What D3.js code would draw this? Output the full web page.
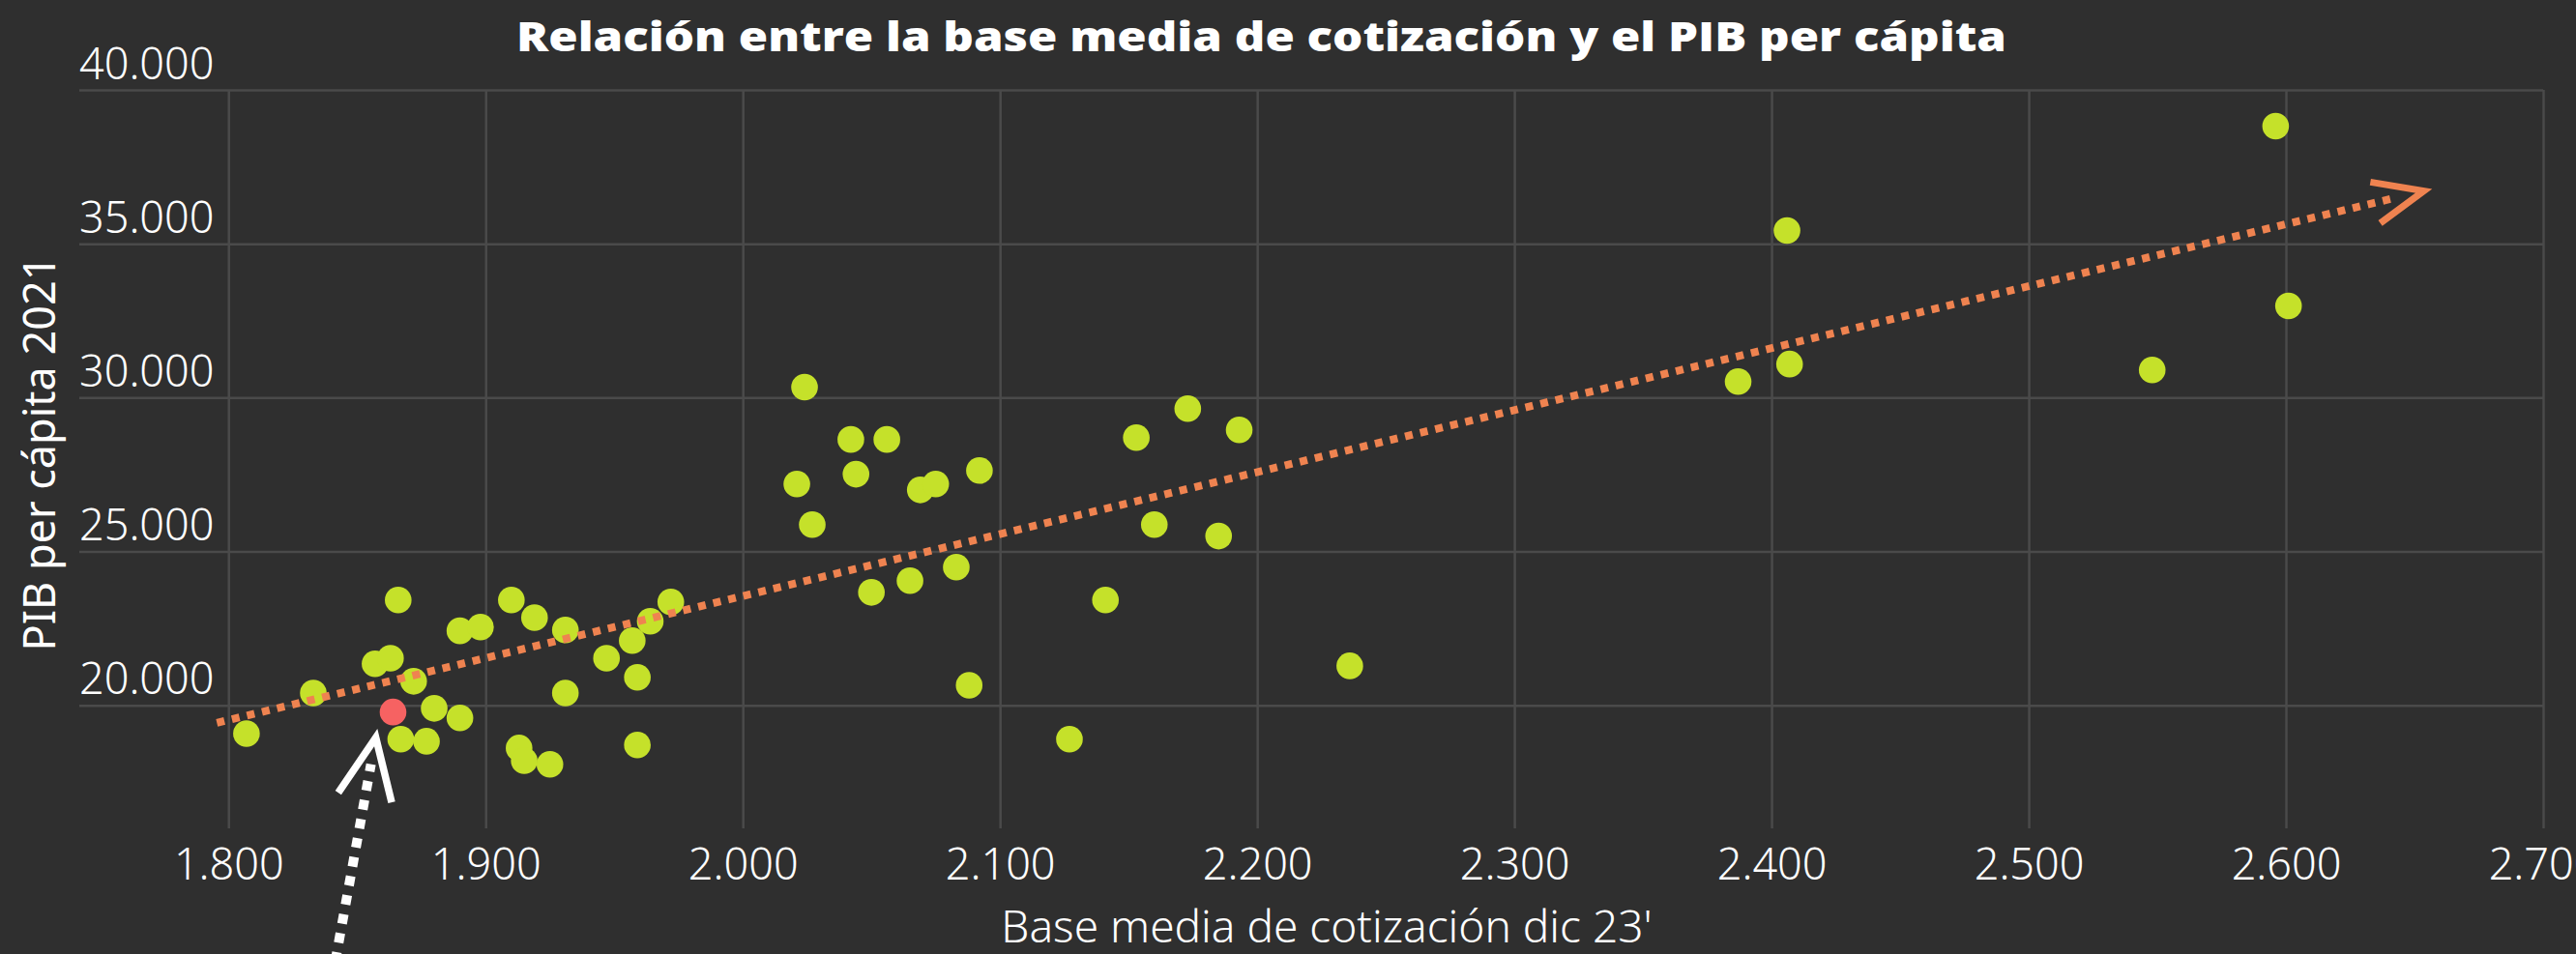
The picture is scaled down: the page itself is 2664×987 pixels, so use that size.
<!DOCTYPE html>
<html>
<head>
<meta charset="utf-8">
<script src="https://cdn.jsdelivr.net/npm/d3@7"></script>
<style>
  html, body { margin: 0; padding: 0; background: #2f2f2f; }
  svg { display: block; }
</style>
</head>
<body>
<div id="chart"></div>
<script>
// ---------------- DATA ----------------
const baseMedia = [
  1807, 1833, 1857, 1863, 1866, 1872, 1864, 1867, 1877, 1880,
  1890, 1890, 1898, 1910, 1919, 1913, 1915, 1925, 1931, 1931,
  1947, 1957, 1959, 1959, 1964, 1972, 2024, 2042, 2056, 2021,
  2044, 2069, 2075, 2092, 2027, 2050, 2065, 2083, 2088, 2127,
  2141, 2153, 2173, 2193, 2160, 2185, 2236, 2596, 2406, 2601,
  2387, 2407, 2548
];
const pibPerCapita = [
  19080, 20400, 21350, 21530, 23420, 20780, 19780, 18900, 18830, 19900,
  19590, 22420, 22540, 23420, 22850, 18610, 18200, 18080, 22450, 20400,
  21530, 22100, 20910, 18710, 22730, 23360, 30340, 28640, 28640, 27190,
  27510, 27000, 27190, 27630, 25870, 23670, 24050, 24490, 20650, 18900,
  23420, 28700, 29640, 28950, 25870, 25500, 21280, 38820, 35430, 32980,
  30520, 31090, 30900
];
const highlightIndex = 6;

const xTicks = [1800, 1900, 2000, 2100, 2200, 2300, 2400, 2500, 2600, 2700];
const yTicks = [20000, 25000, 30000, 35000, 40000];
const xDomain = [1742, 2700];
const yDomain = [16000, 40000];

// trend arrow: start point and arrow tip (data units)
const trendStart = [1795.5, 19430];
const trendTip = [2653.6, 36716];
// pointer arrow to the highlighted point: tail and tip (data units)
const pointerTail = [1841.5, 11666];
const pointerTip = [1857.3, 18951];

const titleText = "Relación entre la base media de cotización y el PIB per cápita";
const xTitle = "Base media de cotización dic 23'";
const yTitle = "PIB per cápita 2021";

// ---------------- CHART ----------------
const W = 2664, H = 987;
const plot = { left: 82, right: 2630, top: 93, bottom: 857 };
const colors = {
  bg: "#2f2f2f", grid: "#4a4a4a", text: "#ffffff",
  point: "#c5e12a", highlight: "#f66262", trend: "#ef8350", pointer: "#ffffff"
};
const fmt = d3.formatLocale({ decimal: ",", thousands: ".", grouping: [3], currency: ["", "€"] }).format(",");

const svg = d3.select("#chart").append("svg")
  .attr("width", W).attr("height", H)
  .style("background", colors.bg);

const x = d3.scaleLinear().domain(xDomain).range([plot.left, plot.right]);
const y = d3.scaleLinear().domain(yDomain).range([plot.bottom, plot.top]);

// vertical grid + x tick labels
const xAxis = svg.append("g")
  .attr("transform", `translate(0,${plot.bottom})`)
  .call(d3.axisBottom(x).tickValues(xTicks).tickFormat(fmt)
    .tickSize(-(plot.bottom - plot.top)).tickPadding(22));
xAxis.select(".domain").remove();
xAxis.selectAll(".tick line").attr("stroke", colors.grid).attr("stroke-width", 2.5);
xAxis.selectAll(".tick text")
  .attr("fill", colors.text)
  .style("font-family", "'Noto Sans', 'Open Sans', sans-serif")
  .style("font-weight", 300)
  .style("font-size", "45px")
  .attr("y", 53).attr("dy", 0);

// horizontal grid + y tick labels
const yAxis = svg.append("g")
  .attr("transform", `translate(${plot.left},0)`)
  .call(d3.axisLeft(y).tickValues(yTicks).tickFormat(fmt)
    .tickSize(-(plot.right - plot.left)));
yAxis.select(".domain").remove();
yAxis.selectAll(".tick line").attr("stroke", colors.grid).attr("stroke-width", 2.5);
yAxis.selectAll(".tick text")
  .attr("fill", colors.text)
  .attr("text-anchor", "start")
  .attr("x", 0).attr("dy", 0).attr("y", -12)
  .style("font-family", "'Noto Sans', 'Open Sans', sans-serif")
  .style("font-weight", 300)
  .style("font-size", "45px");

// points
svg.append("g").selectAll("circle")
  .data(baseMedia.map((v, i) => ({ x: v, y: pibPerCapita[i], i })))
  .join("circle")
  .attr("cx", d => x(d.x))
  .attr("cy", d => y(d.y))
  .attr("r", 13.8)
  .attr("fill", d => d.i === highlightIndex ? colors.highlight : colors.point);

// arrow helper
function drawArrow(p0, p1, opt) {
  const x0 = x(p0[0]), y0 = y(p0[1]), x1 = x(p1[0]), y1 = y(p1[1]);
  const L = Math.hypot(x1 - x0, y1 - y0);
  const ux = (x1 - x0) / L, uy = (y1 - y0) / L;
  const g = svg.append("g");
  g.append("line")
    .attr("x1", x0).attr("y1", y0)
    .attr("x2", x1 - ux * opt.gap).attr("y2", y1 - uy * opt.gap)
    .attr("stroke", opt.color)
    .attr("stroke-width", opt.width)
    .attr("stroke-dasharray", opt.dash);
  const a = opt.angle * Math.PI / 180;
  const bx = -ux, by = -uy;
  const rot = (ang) => [bx * Math.cos(ang) - by * Math.sin(ang), bx * Math.sin(ang) + by * Math.cos(ang)];
  const r1 = rot(a), r2 = rot(-a);
  g.append("path")
    .attr("d", `M${x1 + r1[0] * opt.head},${y1 + r1[1] * opt.head}L${x1},${y1}L${x1 + r2[0] * opt.head},${y1 + r2[1] * opt.head}`)
    .attr("fill", "none")
    .attr("stroke", opt.color)
    .attr("stroke-width", opt.headWidth)
    .attr("stroke-linejoin", "miter")
    .attr("stroke-miterlimit", 10);
}

drawArrow(trendStart, trendTip, { color: colors.trend, width: 8, dash: "8 8", gap: 32, angle: 23, head: 56, headWidth: 7 });
drawArrow(pointerTail, pointerTip, { color: colors.pointer, width: 10, dash: "10 10", gap: 28, angle: 24, head: 69, headWidth: 7.5 });

// title
svg.append("text")
  .attr("x", 534).attr("y", 53)
  .attr("textLength", 1541).attr("lengthAdjust", "spacingAndGlyphs")
  .attr("fill", colors.text)
  .style("font-family", "'Open Sans', 'Noto Sans', sans-serif")
  .style("font-weight", 800)
  .style("font-size", "42px")
  .text(titleText);

// x title
svg.append("text")
  .attr("x", 1372).attr("y", 975)
  .attr("text-anchor", "middle")
  .attr("fill", colors.text)
  .style("font-family", "'Noto Sans', 'Open Sans', sans-serif")
  .style("font-weight", 300)
  .style("font-size", "46px")
  .text(xTitle);

// y title
svg.append("text")
  .attr("transform", `translate(57,469) rotate(-90)`)
  .attr("text-anchor", "middle")
  .attr("fill", colors.text)
  .style("font-family", "'Noto Sans', 'Open Sans', sans-serif")
  .style("font-weight", 400)
  .style("font-size", "45px")
  .text(yTitle);
</script>
</body>
</html>
